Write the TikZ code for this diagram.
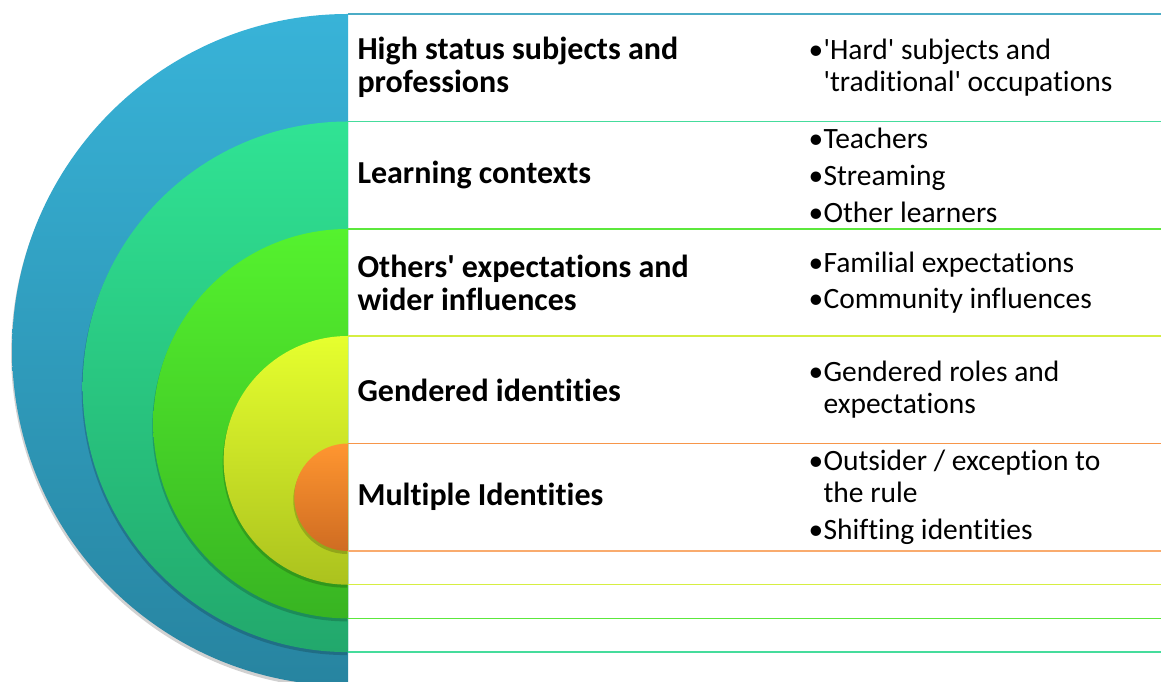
\documentclass[tikz,border=0pt]{standalone}
\usepackage{fontspec}
\setmainfont{Carlito}[Ligatures={TeXOff, NoCommon}]
\usepackage{tikz}
\usetikzlibrary{shapes, positioning, calc, shadows}

\definecolor{blueT}{HTML}{38B3D8}
\definecolor{blueB}{HTML}{2784A0}
\definecolor{tealT}{HTML}{30E394}
\definecolor{tealB}{HTML}{22A86C}
\definecolor{grnT}{HTML}{55F22E}
\definecolor{grnB}{HTML}{38B422}
\definecolor{yelT}{HTML}{E6FF2E}
\definecolor{yelB}{HTML}{ABC21E}
\definecolor{orgT}{HTML}{FF9630}
\definecolor{orgB}{HTML}{CF6C22}
\definecolor{blueL}{HTML}{4BACC6}
\definecolor{tealL}{HTML}{45DC9C}
\definecolor{grnL}{HTML}{5CE83C}
\definecolor{yelL}{HTML}{D6EE42}
\definecolor{orgL}{HTML}{F7964A}

\tikzstyle{ring} = [drop shadow={shadow xshift=-1pt, shadow yshift=-3pt, opacity=0.18, fill=black}]
\tikzstyle{head} = [anchor=west, align=left, font=\fontsize{32}{33}\selectfont\bfseries]
\tikzstyle{items} = [anchor=west, align=left, font=\fontsize{29.5}{32}\selectfont]
\newcommand{\bul}{\makebox[15pt][l]{\textbullet}}
\newcommand{\ind}{\hspace*{15pt}}

\begin{document}
\begin{tikzpicture}[x=1pt, y=1pt]
		\useasboundingbox (0,0) rectangle (1161,682);
		\fill[white] (0,0) rectangle (1161,682);

		\coordinate (blue)  at (348, 668);
		\coordinate (teal)  at (348, 560.5);
		\coordinate (green) at (348, 453);
		\coordinate (yel)   at (348, 346);
		\coordinate (org)   at (348, 238.5);
		\coordinate (orgbot)  at (348, 131);
		\coordinate (yelbot)  at (348, 97.3);
		\coordinate (grnbot)  at (348, 63.6);
		\coordinate (tealbot) at (348, 29.9);

		\shade[ring, top color=blueT, bottom color=blueB] (blue) arc[start angle=90, end angle=270, radius=335.9pt] -- cycle;
		\shade[ring, top color=tealT, bottom color=tealB] (teal) arc[start angle=90, end angle=270, radius=265.3pt] -- cycle;
		\shade[ring, top color=grnT, bottom color=grnB] (green) arc[start angle=90, end angle=270, radius=194.7pt] -- cycle;
		\shade[ring, top color=yelT, bottom color=yelB] (yel) arc[start angle=90, end angle=270, radius=124.35pt] -- cycle;
		\shade[ring, top color=orgT, bottom color=orgB] (org) arc[start angle=90, end angle=270, radius=53.75pt] -- cycle;

		\draw[blueL, line width=1.5pt] (blue) -- ++(813, 0);
		\draw[tealL, line width=1.5pt] (teal) -- ++(813, 0);
		\draw[grnL, line width=1.5pt] (green) -- ++(813, 0);
		\draw[yelL, line width=1.5pt] (yel) -- ++(813, 0);
		\draw[orgL, line width=1.5pt] (org) -- ++(813, 0);
		\draw[orgL!80, line width=1.5pt] (orgbot) -- ++(813, 0);
		\draw[yelL, line width=1.5pt] (yelbot) -- ++(813, 0);
		\draw[grnL, line width=1.5pt] (grnbot) -- ++(813, 0);
		\draw[tealL, line width=1.5pt] (tealbot) -- ++(813, 0);

		\node[head] (HIG) at (354, 614.3) {High status subjects and\\professions};
		\node[head] (LEA) at (354, 506.8) {Learning contexts};
		\node[head] (OTH) at (354, 399.3) {Others' expectations and\\wider influences};
		\node[head] (GEN) at (354, 292) {Gendered identities};
		\node[head] (MUL) at (354, 184.75) {Multiple Identities};

		\node[items] (HIGi) at (805, 614.3) {\bul'Hard' subjects and\\\ind'traditional' occupations};
		\node[items] (LEAi) at (805, 506.8) {\bul Teachers\\[5pt]\bul Streaming\\[5pt]\bul Other learners};
		\node[items] (OTHi) at (805, 399.3) {\bul Familial expectations\\[4pt]\bul Community influences};
		\node[items] (GENi) at (805, 292) {\bul Gendered roles and\\\ind expectations};
		\node[items] (MULi) at (805, 184.75) {\bul Outsider / exception to\\\ind the rule\\[5pt]\bul Shifting identities};
	\end{tikzpicture}
\end{document}
